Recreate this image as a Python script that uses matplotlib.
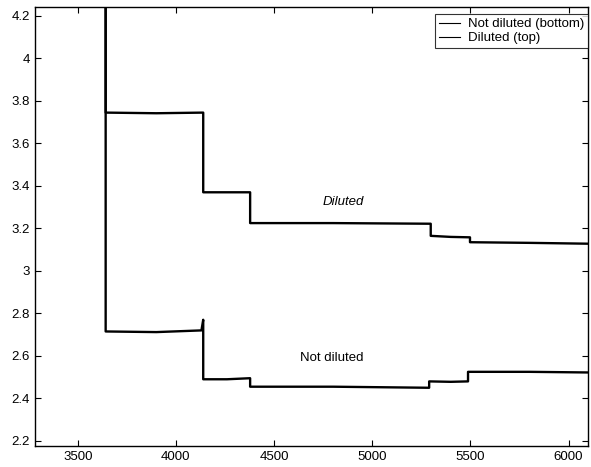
import matplotlib
matplotlib.use("Agg")
import matplotlib.pyplot as plt
from matplotlib.ticker import FormatStrFormatter

plt.rcParams['font.family'] = ['Liberation Sans', 'DejaVu Sans']

# Step traces (x = sample index, y = signal)
diluted_x = [3642, 3642, 3900, 4139, 4139, 4260, 4378, 4378, 4800, 5298, 5298, 5400, 5498, 5498, 5800, 6100]
diluted_y = [4.30, 3.745, 3.742, 3.745, 3.37, 3.37, 3.37, 3.225, 3.225, 3.222, 3.165, 3.16, 3.158, 3.135, 3.132, 3.128]

notdil_x = [3642, 3642, 3900, 4130, 4139, 4139, 4260, 4378, 4378, 4800, 5290, 5290, 5400, 5488, 5488, 5800, 6100]
notdil_y = [4.30, 2.715, 2.712, 2.72, 2.77, 2.49, 2.49, 2.495, 2.455, 2.455, 2.45, 2.48, 2.478, 2.48, 2.525, 2.525, 2.522]

x_ticks = [3500, 4000, 4500, 5000, 5500, 6000]
y_ticks = [2.2, 2.4, 2.6, 2.8, 3.0, 3.2, 3.4, 3.6, 3.8, 4.0, 4.2]

fig = plt.figure(figsize=(5.91, 4.67), dpi=100)
ax = fig.add_axes([0.0592, 0.045, 0.936, 0.940])

ax.plot(notdil_x, notdil_y, color='black', lw=1.7, label='Not diluted (bottom)')
ax.plot(diluted_x, diluted_y, color='black', lw=1.7, label='Diluted (top)')

ax.set_xlim(3282, 6100)
ax.set_ylim(2.176, 4.242)
ax.set_xticks(x_ticks)
ax.set_yticks(y_ticks)
ax.yaxis.set_major_formatter(FormatStrFormatter('%g'))
ax.tick_params(direction='in', top=True, right=True, labelsize=9.5, length=4, width=0.8)

ax.text(4854, 3.325, 'Diluted', style='italic', fontsize=9.5, ha='center', va='center')
ax.text(4793, 2.59, 'Not diluted', fontsize=9.5, ha='center', va='center')

leg = ax.legend(loc='upper right', bbox_to_anchor=(1.0, 0.984), fontsize=9.5,
                frameon=True, fancybox=False, edgecolor='black', handlelength=1.6,
                borderpad=0.3, labelspacing=0.15, handletextpad=0.6, borderaxespad=0.0)
leg.get_frame().set_linewidth(0.8)
for h in leg.get_lines():
    h.set_linewidth(0.8)

for s in ax.spines.values():
    s.set_linewidth(1.0)

fig.savefig('out.png', dpi=100)
